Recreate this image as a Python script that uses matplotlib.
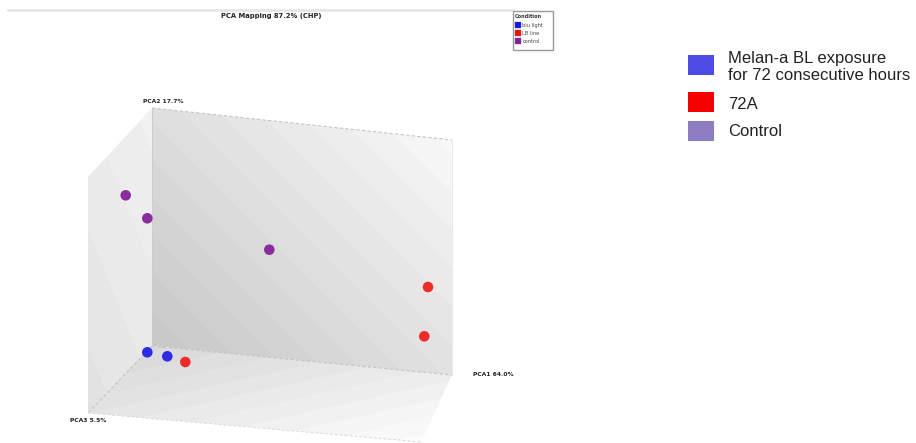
import numpy as np
import matplotlib

matplotlib.use("Agg")
import matplotlib.pyplot as plt
from matplotlib.patches import Polygon, Rectangle

W, H = 916, 443

# projected sample positions on the PCA box (canvas pixels)
groups = ["blu light", "LB line", "control"]
blu_x = [147.3, 167.3]
blu_y = [352.3, 356.3]
lb_x = [428.0, 424.3, 185.3]
lb_y = [287.0, 336.3, 362.0]
ctrl_x = [125.7, 147.3, 269.3]
ctrl_y = [195.3, 218.3, 249.7]

dot_colors = ["#2b2be8", "#ee2b2b", "#8a2c9c"]

axis_labels = ["PCA1 64.0%", "PCA2 17.7%", "PCA3 5.5%"]
title = "PCA Mapping 87.2% (CHP)"

key_labels = ["Melan-a BL exposure\nfor 72 consecutive hours", "72A", "Control"]
key_colors = ["#4d4be4", "#f70000", "#8e7cc3"]

# box corners
BTL, BBL = (152, 108), (152, 346)
BTR, BBR = (452, 140), (452, 375)
FTL, FBL = (88, 177), (88, 413)
FBR = (421, 442)

fig = plt.figure(figsize=(W / 100, H / 100), dpi=100)
ax = fig.add_axes([0, 0, 1, 1])
ax.set_xlim(0, W)
ax.set_ylim(H, 0)
ax.axis("off")

yy, xx = np.mgrid[0:H, 0:W] + 0.5


def shaded_face(corners, base, kx, ky, x0, y0):
    g = base + kx * (xx - x0) + ky * (yy - y0)
    g = np.clip(np.round(g * 70) / 70, 0, 1)
    poly = Polygon(corners, closed=True, facecolor="none", edgecolor="none")
    ax.add_patch(poly)
    im = ax.imshow(g, cmap="gray", vmin=0, vmax=1, extent=(0, W, H, 0),
                   interpolation="bilinear", zorder=1)
    im.set_clip_path(poly)


shaded_face([BTL, BTR, BBR, BBL], 0.78, 0.000375, -0.000375, *BBL)
shaded_face([FTL, BTL, BBL, FBL], 0.885, 0.0003, -0.00012, *FBL)
shaded_face([FBL, BBL, BBR, FBR], 0.845, 0.0002, 0.0009, *BBL)

edge = dict(color="#c4c4c4", lw=0.8, zorder=2)
ax.plot([BTL[0], BTR[0]], [BTL[1], BTR[1]], ls=(0, (3, 2)), **edge)
ax.plot([BBL[0], BBR[0]], [BBL[1], BBR[1]], ls=(0, (3, 2)), **edge)
ax.plot([BBL[0], FBL[0]], [BBL[1], FBL[1]], ls=(0, (3, 2)), **edge)
ax.plot([FBL[0], FBR[0]], [FBL[1], FBR[1]], ls=(0, (3, 2)), color="#dadada",
        lw=0.7, zorder=2)
ax.plot([BTL[0], BBL[0]], [BTL[1], BBL[1]], color="#cccccc", lw=0.7, zorder=2)
ax.plot([BTR[0], BBR[0]], [BTR[1], BBR[1]], color="#e4e4e4", lw=0.6, zorder=2)

for gx, gy, c in zip([blu_x, lb_x, ctrl_x], [blu_y, lb_y, ctrl_y], dot_colors):
    ax.scatter(gx, gy, s=58, color=c, edgecolors="none", zorder=4)

lab = dict(fontsize=4.3, fontweight="bold", color="#222222", zorder=5)
ax.text(473, 374, axis_labels[0], va="center", ha="left", **lab)
ax.text(143, 101, axis_labels[1], va="center", ha="left", **lab)
ax.text(70, 421, axis_labels[2], va="center", ha="left", **lab)

# header strip and title
ax.plot([8, 513], [10, 10], color="#e4e4e4", lw=1.8, zorder=2)
ax.text(221, 16, title, fontsize=4.9, fontweight="bold", color="#222222",
        va="center", ha="left")

# small condition key
ax.add_patch(Rectangle((513, 11), 40, 39, facecolor="white",
                       edgecolor="#9a9a9a", lw=1.0, zorder=3))
ax.text(515, 16, "Condition", fontsize=3.6, fontweight="bold", va="center",
        ha="left", color="#333333", zorder=4)
for i, (name, c) in enumerate(zip(groups, ["#1010f0", "#ee1010", "#8a1a9a"])):
    y = 25 + i * 8
    ax.add_patch(Rectangle((515, y - 2.8), 5.5, 5.5, facecolor=c,
                           edgecolor="#666666", lw=0.3, zorder=4))
    ax.text(522.5, y, name, fontsize=3.6, va="center", ha="left",
            color="#444444", zorder=4)

# large key on the right
swatch_y = [65, 101.5, 131]
text_y = [67, 104, 132]
for lbl, c, sy, ty in zip(key_labels, key_colors, swatch_y, text_y):
    ax.add_patch(Rectangle((688, sy - 10), 26, 20, facecolor=c,
                           edgecolor="none", zorder=3))
    ax.text(728, ty, lbl, fontsize=12, family="Liberation Sans",
            va="center", ha="left", color="#222222", linespacing=1.15)

fig.savefig("out.png", dpi=100, facecolor="white")
